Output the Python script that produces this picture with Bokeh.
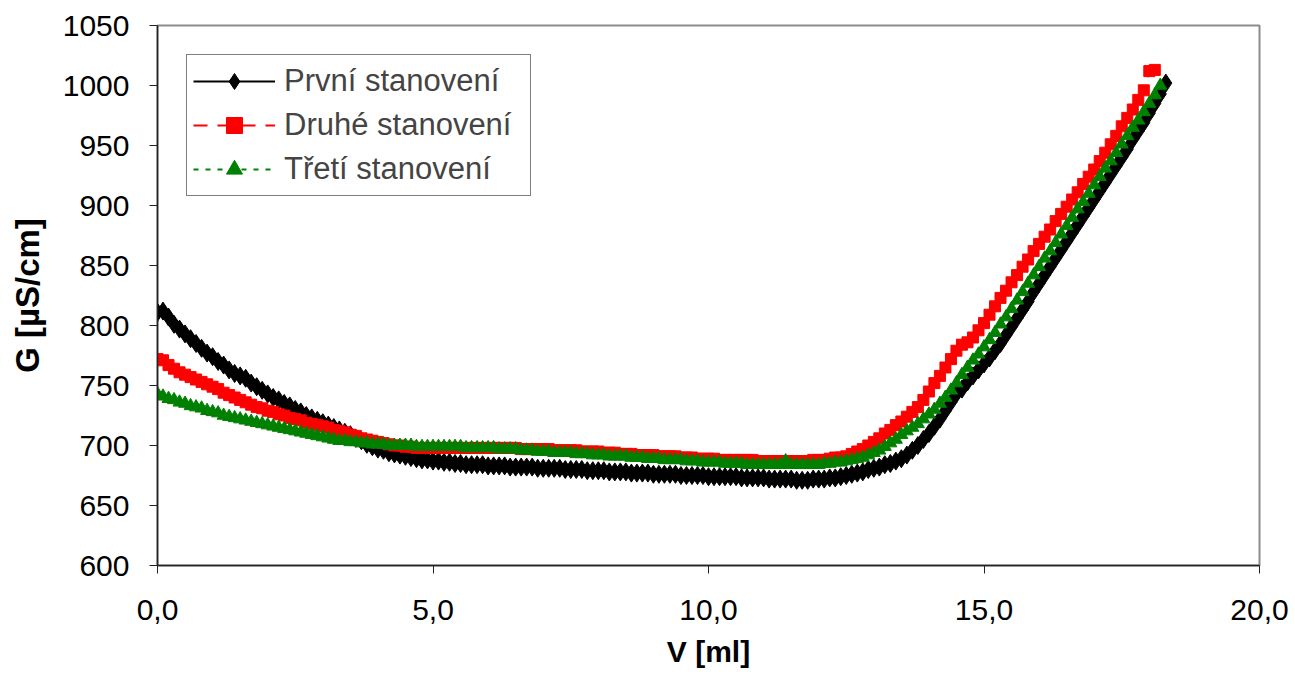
from bokeh.plotting import figure
from bokeh.models import Range1d, FixedTicker, CustomJSTickFormatter, Legend, LegendItem
from bokeh.embed import file_html
from bokeh.resources import INLINE

# Volume of titrant [ml]
V = [0.0, 0.1, 0.2, 0.3, 0.4, 0.5, 0.6, 0.7, 0.8, 0.9,
     1.0, 1.1, 1.2, 1.3, 1.4, 1.5, 1.6, 1.7, 1.8, 1.9,
     2.0, 2.1, 2.2, 2.3, 2.4, 2.5, 2.6, 2.7, 2.8, 2.9,
     3.0, 3.1, 3.2, 3.3, 3.4, 3.5, 3.6, 3.7, 3.8, 3.9,
     4.0, 4.1, 4.2, 4.3, 4.4, 4.5, 4.6, 4.7, 4.8, 4.9,
     5.0, 5.1, 5.2, 5.3, 5.4, 5.5, 5.6, 5.7, 5.8, 5.9,
     6.0, 6.1, 6.2, 6.3, 6.4, 6.5, 6.6, 6.7, 6.8, 6.9,
     7.0, 7.1, 7.2, 7.3, 7.4, 7.5, 7.6, 7.7, 7.8, 7.9,
     8.0, 8.1, 8.2, 8.3, 8.4, 8.5, 8.6, 8.7, 8.8, 8.9,
     9.0, 9.1, 9.2, 9.3, 9.4, 9.5, 9.6, 9.7, 9.8, 9.9,
     10.0, 10.1, 10.2, 10.3, 10.4, 10.5, 10.6, 10.7, 10.8, 10.9,
     11.0, 11.1, 11.2, 11.3, 11.4, 11.5, 11.6, 11.7, 11.8, 11.9,
     12.0, 12.1, 12.2, 12.3, 12.4, 12.5, 12.6, 12.7, 12.8, 12.9,
     13.0, 13.1, 13.2, 13.3, 13.4, 13.5, 13.6, 13.7, 13.8, 13.9,
     14.0, 14.1, 14.2, 14.3, 14.4, 14.5, 14.6, 14.7, 14.8, 14.9,
     15.0, 15.1, 15.2, 15.3, 15.4, 15.5, 15.6, 15.7, 15.8, 15.9,
     16.0, 16.1, 16.2, 16.3, 16.4, 16.5, 16.6, 16.7, 16.8, 16.9,
     17.0, 17.1, 17.2, 17.3, 17.4, 17.5, 17.6, 17.7, 17.8, 17.9,
     18.0, 18.1, 18.2, 18.3]

# První stanovení (black)
G1 = [811, 812, 807, 801, 797, 793, 789, 785, 781, 777,
      774, 770, 767, 763, 760, 758, 756, 752, 749, 746,
      743, 740, 738, 735, 733, 730, 728, 725, 723, 721,
      719, 717, 715, 713, 711, 709, 706, 704, 701, 699,
      697, 696, 694, 693, 692, 691, 690, 689, 688, 688,
      687, 687, 686, 686, 685, 685, 684, 684, 684, 684,
      683, 683, 683, 683, 682, 682, 682, 682, 682, 681,
      681, 681, 681, 681, 680, 680, 680, 680, 679, 679,
      679, 679, 678, 678, 678, 678, 677, 677, 677, 677,
      676, 676, 676, 676, 676, 675, 675, 675, 675, 675,
      674, 674, 674, 674, 674, 674, 673, 673, 673, 673,
      673, 672, 672, 672, 672, 672, 671, 671, 671, 672,
      672, 672, 673, 673, 674, 675, 676, 677, 678, 680,
      681, 682, 684, 685, 687, 689, 692, 696, 700, 705,
      710, 716, 722, 729, 736, 743, 747, 753, 758, 763,
      768, 773, 779, 785, 792, 799, 806, 813, 820, 828,
      835, 842, 849, 856, 863, 870, 877, 884, 891, 898,
      905, 912, 919, 926, 933, 940, 947, 955, 962, 969,
      977, 985, 993, 1002]

# Druhé stanovení (red)
G2 = [772, 771, 767, 764, 761, 759, 757, 755, 753, 751,
      749, 747, 744, 742, 740, 738, 736, 734, 732, 731,
      729, 728, 726, 725, 723, 722, 721, 719, 718, 717,
      716, 715, 713, 712, 711, 709, 708, 706, 705, 704,
      703, 702, 701, 700, 700, 699, 699, 698, 698, 698,
      698, 698, 698, 698, 698, 698, 698, 698, 698, 698,
      698, 698, 698, 698, 698, 698, 697, 697, 697, 697,
      697, 697, 696, 696, 696, 696, 696, 695, 695, 695,
      695, 694, 694, 694, 693, 693, 693, 692, 692, 692,
      692, 691, 691, 691, 691, 690, 690, 690, 689, 689,
      689, 689, 688, 688, 688, 688, 688, 688, 688, 687,
      687, 687, 687, 687, 687, 687, 687, 687, 687, 688,
      688, 688, 689, 690, 690, 691, 693, 695, 697, 700,
      703, 706, 710, 713, 717, 720, 724, 728, 732, 738,
      745, 752, 758, 765, 772, 779, 784, 786, 790, 796,
      802, 809, 816, 823, 829, 836, 842, 849, 855, 862,
      868, 874, 880, 887, 893, 899, 905, 911, 918, 924,
      930, 937, 944, 951, 958, 966, 973, 980, 988, 996,
      1012, 1013]

# Třetí stanovení (green)
G3 = [743, 741, 739, 738, 736, 735, 733, 732, 731, 729,
      728, 727, 725, 724, 723, 722, 721, 720, 719, 718,
      717, 716, 715, 714, 713, 712, 711, 710, 709, 708,
      707, 706, 705, 704, 704, 703, 703, 702, 702, 701,
      701, 701, 700, 700, 700, 700, 700, 699, 699, 699,
      699, 699, 699, 699, 699, 699, 698, 698, 698, 698,
      698, 698, 697, 697, 697, 697, 696, 696, 696, 695,
      695, 695, 694, 694, 694, 694, 693, 693, 693, 692,
      692, 692, 691, 691, 691, 691, 690, 690, 690, 689,
      689, 689, 688, 688, 688, 688, 687, 687, 687, 686,
      686, 686, 686, 685, 685, 685, 685, 684, 684, 684,
      684, 684, 684, 684, 687, 684, 684, 684, 684, 684,
      684, 685, 685, 686, 686, 687, 688, 689, 690, 692,
      694, 696, 699, 702, 705, 709, 712, 715, 718, 722,
      726, 730, 735, 740, 746, 752, 759, 765, 771, 776,
      782, 788, 794, 801, 807, 814, 821, 828, 835, 842,
      849, 856, 862, 869, 876, 883, 890, 897, 903, 910,
      917, 924, 931, 937, 944, 951, 958, 965, 971, 978,
      985, 992, 1000]

NAMES = ["První stanovení", "Druhé stanovení", "Třetí stanovení"]
X_TICKS = [0, 5, 10, 15, 20]
Y_TICKS = [600, 650, 700, 750, 800, 850, 900, 950, 1000, 1050]

FONT = "Liberation Sans"

p = figure(width=1295, height=687, output_backend="svg", toolbar_location=None,
           x_range=Range1d(0, 20), y_range=Range1d(600, 1050),
           min_border_left=157, min_border_right=36, min_border_top=25, min_border_bottom=122)
p.background_fill_color = "white"
p.border_fill_color = "white"
p.outline_line_color = "#8c8c8c"
p.outline_line_width = 2
p.xgrid.visible = False
p.ygrid.visible = False

for ax in (p.xaxis[0], p.yaxis[0]):
    ax.axis_line_color = "#222222"
    ax.axis_line_width = 1.5
    ax.major_tick_line_color = "#222222"
    ax.major_tick_out = 8
    ax.major_tick_in = 0
    ax.minor_tick_line_color = None
    ax.major_label_text_font = FONT
    ax.major_label_text_font_size = "30px"
    ax.major_label_text_color = "black"
    ax.axis_label_text_font = FONT
    ax.axis_label_text_font_style = "bold"
    ax.axis_label_text_color = "black"

p.xaxis.axis_label_text_font_size = "30px"
p.yaxis.axis_label_text_font_size = "33px"
p.xaxis.ticker = FixedTicker(ticks=X_TICKS)
p.yaxis.ticker = FixedTicker(ticks=Y_TICKS)
p.xaxis.formatter = CustomJSTickFormatter(code="return tick.toFixed(1).replace('.', ',');")
p.xaxis.major_label_standoff = 26
p.yaxis.major_label_standoff = 20
p.xaxis.axis_label = "V [ml]"
p.yaxis.axis_label = "G [µS/cm]"
p.xaxis.axis_label_standoff = 12
p.yaxis.axis_label_standoff = 14

n1, n2, n3 = len(G1), len(G2), len(G3)

l1 = p.line(V[:n1], G1, line_color="black", line_width=2)
s1 = p.scatter(V[:n1], G1, marker="diamond", size=18, fill_color="black", line_color="black")
l2 = p.line(V[:n2], G2, line_color="#ff0000", line_width=2, line_dash="14 10")
s2 = p.scatter(V[:n2], G2, marker="square", size=11, fill_color="#ff0000", line_color="#ff0000")
l3 = p.line(V[:n3], G3, line_color="#008000", line_width=2, line_dash="5 7")
s3 = p.scatter(V[:n3], G3, marker="triangle", size=13, fill_color="#008000", line_color="#008000")

legend = Legend(items=[LegendItem(label=NAMES[0], renderers=[l1, s1]),
                       LegendItem(label=NAMES[1], renderers=[l2, s2]),
                       LegendItem(label=NAMES[2], renderers=[l3, s3])],
                location="top_left")
legend.margin = 29
legend.padding = 6
legend.spacing = 4
legend.glyph_width = 82
legend.glyph_height = 40
legend.label_height = 40
legend.label_width = 240
legend.label_standoff = 9
legend.label_text_font = FONT
legend.label_text_font_size = "31px"
legend.border_line_color = "black"
legend.border_line_width = 1
legend.background_fill_color = "white"
legend.background_fill_alpha = 1
p.add_layout(legend, "center")

open("out.html", "w").write(file_html(p, INLINE))
